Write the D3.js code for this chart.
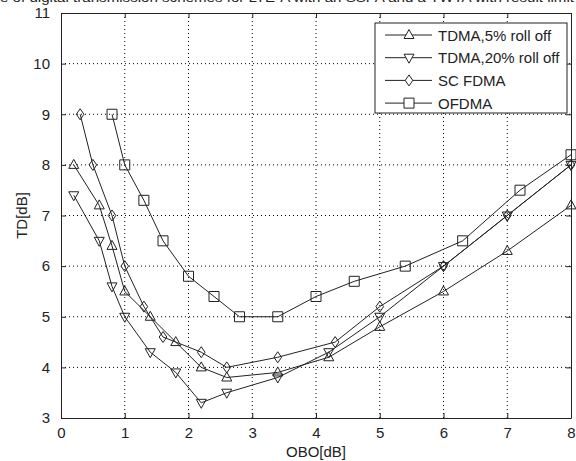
<!DOCTYPE html>
<html>
<head>
<meta charset="utf-8">
<script src="https://cdn.jsdelivr.net/npm/d3@7"></script>
<style>
body { margin: 0; background: #fff; }
svg { display: block; font-family: "Liberation Sans", Arial, sans-serif; }
.grid line { stroke: #000; stroke-dasharray: 1,3; stroke-width: 1; }
</style>
</head>
<body>
<div id="chart"></div>
<script>
// data
var tdma5x  = [0.2, 0.6, 0.8, 1.0, 1.4, 1.8, 2.2, 2.6, 3.4, 4.2, 5.0, 6.0, 7.0, 8.0];
var tdma5y  = [8.0, 7.2, 6.4, 5.5, 5.0, 4.5, 4.0, 3.8, 3.9, 4.2, 4.8, 5.5, 6.3, 7.2];
var tdma20x = [0.2, 0.6, 0.8, 1.0, 1.4, 1.8, 2.2, 2.6, 3.4, 4.2, 5.0, 6.0, 7.0, 8.0];
var tdma20y = [7.4, 6.5, 5.6, 5.0, 4.3, 3.9, 3.3, 3.5, 3.8, 4.3, 5.0, 6.0, 7.0, 8.0];
var scx     = [0.3, 0.5, 0.8, 1.0, 1.3, 1.6, 2.2, 2.6, 3.4, 4.3, 5.0, 6.0, 7.0, 8.0];
var scy     = [9.0, 8.0, 7.0, 6.0, 5.2, 4.6, 4.3, 4.0, 4.2, 4.5, 5.2, 6.0, 7.0, 8.0];
var ofdmax  = [0.8, 1.0, 1.3, 1.6, 2.0, 2.4, 2.8, 3.4, 4.0, 4.6, 5.4, 6.3, 7.2, 8.0];
var ofdmay  = [9.0, 8.0, 7.3, 6.5, 5.8, 5.4, 5.0, 5.0, 5.4, 5.7, 6.0, 6.5, 7.5, 8.2];

var seriesNames = ["TDMA,5% roll off", "TDMA,20% roll off", "SC FDMA", "OFDMA"];
var seriesMarkers = ["up", "down", "diamond", "square"];
var xTicks = [0, 1, 2, 3, 4, 5, 6, 7, 8];
var yTicks = [3, 4, 5, 6, 7, 8, 9, 10, 11];

var W = 576, H = 461;
var margin = {left: 61, right: 5, top: 13, bottom: 43};

var svg = d3.select("#chart").append("svg")
	.attr("width", W)
	.attr("height", H);

var x = d3.scaleLinear().domain([0, 8]).range([margin.left, W - margin.right]);
var y = d3.scaleLinear().domain([3, 11]).range([H - margin.bottom, margin.top]);

// title, only its lower edge shows at the top like in the source image
svg.append("text")
	.attr("x", 0)
	.attr("y", 2)
	.attr("textLength", 574)
	.attr("lengthAdjust", "spacingAndGlyphs")
	.style("font-size", "13px")
	.attr("fill", "#222")
	.text("e of digital transmission schemes for LTE-A with an SSPA and a TWTA with result limit");

// grid
var grid = svg.append("g").attr("class", "grid");
grid.selectAll("line.v").data(xTicks.slice(1, -1)).enter().append("line")
	.attr("x1", function(d) {return x(d);})
	.attr("x2", function(d) {return x(d);})
	.attr("y1", y(11))
	.attr("y2", y(3));
grid.selectAll("line.h").data(yTicks.slice(1, -1)).enter().append("line")
	.attr("y1", function(d) {return y(d);})
	.attr("y2", function(d) {return y(d);})
	.attr("x1", x(0))
	.attr("x2", x(8));

// axes, ticks point inwards on all four sides
var tickLen = 5;
svg.append("g")
	.attr("transform", "translate(0," + y(3) + ")")
	.call(d3.axisBottom(x).tickValues(xTicks).tickSizeInner(-tickLen).tickSizeOuter(0).tickPadding(9));
svg.append("g")
	.attr("transform", "translate(0," + y(11) + ")")
	.call(d3.axisTop(x).tickValues(xTicks).tickSizeInner(-tickLen).tickSizeOuter(0).tickFormat(""));
svg.append("g")
	.attr("transform", "translate(" + x(0) + ",0)")
	.call(d3.axisLeft(y).tickValues(yTicks).tickSizeInner(-tickLen).tickSizeOuter(0).tickPadding(11));
svg.append("g")
	.attr("transform", "translate(" + x(8) + ",0)")
	.call(d3.axisRight(y).tickValues(yTicks).tickSizeInner(-tickLen).tickSizeOuter(0).tickFormat(""));

svg.selectAll(".domain").attr("stroke", "#222");
svg.selectAll(".tick line").attr("stroke", "#222");
svg.selectAll(".tick text")
	.attr("fill", "#222")
	.style("font-size", "15px")
	.style("font-family", "'Liberation Sans', Arial, sans-serif");

// axis labels
svg.append("text")
	.attr("x", (x(0) + x(8)) / 2)
	.attr("y", 457)
	.attr("text-anchor", "middle")
	.style("font-size", "15px")
	.attr("fill", "#222")
	.text("OBO[dB]");
svg.append("text")
	.attr("transform", "translate(27," + ((y(3) + y(11)) / 2) + ") rotate(-90)")
	.attr("text-anchor", "middle")
	.style("font-size", "15px")
	.attr("fill", "#222")
	.text("TD[dB]");

// markers
function markerPath(type) {
	switch (type) {
		case "up": return "M0,-5.5L5,3.5L-5,3.5Z";
		case "down": return "M0,5.5L5,-3.5L-5,-3.5Z";
		case "diamond": return "M0,-5.5L3.8,0L0,5.5L-3.8,0Z";
		default: return "M-5,-5L5,-5L5,5L-5,5Z";
	}
}

var series = [
	{xs: tdma5x, ys: tdma5y},
	{xs: tdma20x, ys: tdma20y},
	{xs: scx, ys: scy},
	{xs: ofdmax, ys: ofdmay}
];

var line = d3.line()
	.x(function(d) {return x(d[0]);})
	.y(function(d) {return y(d[1]);});

var plot = svg.append("g");
series.forEach(function(s, i) {
	var pts = s.xs.map(function(v, j) {return [v, s.ys[j]];});
	plot.append("path")
		.datum(pts)
		.attr("d", line)
		.attr("fill", "none")
		.attr("stroke", "#222")
		.attr("stroke-width", 1);
	plot.selectAll("path.m" + i).data(pts).enter().append("path")
		.attr("class", "m" + i)
		.attr("transform", function(d) {return "translate(" + x(d[0]) + "," + y(d[1]) + ")";})
		.attr("d", markerPath(seriesMarkers[i]))
		.attr("fill", "none")
		.attr("stroke", "#222")
		.attr("stroke-width", 1);
});

// legend
var lg = svg.append("g").attr("transform", "translate(375,23)");
lg.append("rect")
	.attr("width", 192)
	.attr("height", 90)
	.attr("fill", "#fff")
	.attr("stroke", "#222");
seriesNames.forEach(function(name, i) {
	var ly = 12 + i * 22.7;
	lg.append("line")
		.attr("x1", 10).attr("x2", 57)
		.attr("y1", ly).attr("y2", ly)
		.attr("stroke", "#222");
	lg.append("path")
		.attr("transform", "translate(34," + ly + ")")
		.attr("d", markerPath(seriesMarkers[i]))
		.attr("fill", "#fff")
		.attr("stroke", "#222");
	lg.append("text")
		.attr("x", 63)
		.attr("y", ly + 5.5)
		.style("font-size", "15px")
		.attr("fill", "#222")
		.text(name);
});
</script>
</body>
</html>
